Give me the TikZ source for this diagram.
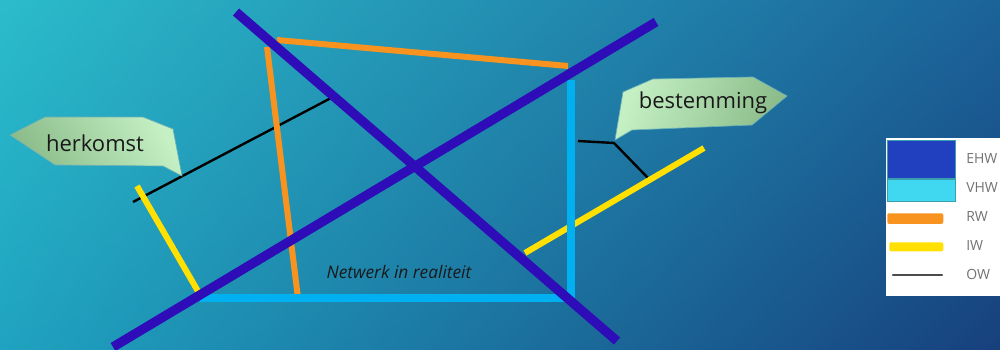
\documentclass[tikz,border=0pt]{standalone}
\usepackage{fontspec}
\setmainfont{Open Sans}
\usetikzlibrary{shadings}
\begin{document}
\begin{tikzpicture}[x=0.75pt,y=-0.75pt,line cap=butt,
  ehw/.style={line width=7pt,draw=ehwc},
  vhw/.style={line width=6pt,draw=vhwc},
  rw/.style={line width=4.5pt,draw=rwc},
  iw/.style={line width=4.5pt,draw=iwc},
  ow/.style={line width=1.8pt,draw=black},
  callout/.style={draw=calloutedge,line width=0.5pt},
  calltext/.style={font=\fontsize{16.5}{18}\selectfont,text=black!90},
  legtext/.style={font=\fontsize{10.5}{12}\selectfont,text=black!55,anchor=west,inner sep=0pt}]
\definecolor{ehwc}{HTML}{2E0CB8}
\definecolor{vhwc}{HTML}{00B0F0}
\definecolor{rwc}{HTML}{F7931E}
\definecolor{iwc}{HTML}{FFE000}
\definecolor{calloutedge}{HTML}{6AB0B8}
\definecolor{bgul}{HTML}{2BBCCB}
\definecolor{bgur}{HTML}{1B6399}
\definecolor{bgll}{HTML}{1FA3C0}
\definecolor{bglr}{HTML}{17407C}
\definecolor{sagedark}{HTML}{8CBC8A}
\definecolor{sagelight}{HTML}{C4F0C4}
\definecolor{legehw}{HTML}{2040C0}
\definecolor{legvhw}{HTML}{40D8F0}
\definecolor{legedge}{HTML}{3AA0B0}
% background
\useasboundingbox (0,0) rectangle (1000,350);
\shade[upper left=bgul,upper right=bgur,lower left=bgll,lower right=bglr] (0,0) rectangle (1000,350);
% coordinates
\coordinate (e1a) at (236,12);
\coordinate (e1b) at (617,341);
\coordinate (e2a) at (656,22);
\coordinate (e2b) at (113,347);
\coordinate (rta) at (277,40);
\coordinate (rtb) at (568,66);
\coordinate (rla) at (267,47);
\coordinate (rlb) at (298,298);
\coordinate (vva) at (571,80);
\coordinate (vvb) at (571,298);
\coordinate (vha) at (200,298);
\coordinate (vhb) at (575,298);
\coordinate (iwla) at (137,186);
\coordinate (iwlb) at (199,293);
\coordinate (iwra) at (525,253);
\coordinate (iwrb) at (704,148);
\coordinate (owla) at (133,202);
\coordinate (owlb) at (331,98);
\coordinate (owra) at (578,141);
\coordinate (owrm) at (614,143);
\coordinate (owrb) at (648,178);
% black lines (under)
\draw[ow] (owla) -- (owlb);
\draw[ow] (owra) -- (owrm) -- (owrb);
% yellow
\draw[iw] (iwla) -- (iwlb);
\draw[iw] (iwra) -- (iwrb);
% orange
\draw[rw] (rta) -- (rtb);
\draw[rw] (rla) -- (rlb);
% light blue
\draw[vhw] (vva) -- (vvb);
\draw[vhw] (vha) -- (vhb);
% dark blue
\draw[ehw] (e1a) -- (e1b);
\draw[ehw] (e2a) -- (e2b);
% callouts
\shade[callout,left color=sagedark,right color=sagelight,shading angle=120]
  (10,135) -- (45,117) -- (143,117) -- (173,129) -- (182,176) -- (163,166) -- (55,165) -- cycle;
\node[calltext] (herkomst) at (95,143) {herkomst};
\shade[callout,left color=sagelight,right color=sagedark,shading angle=70]
  (615,140) -- (623,92) -- (653,79) -- (753,77) -- (787,96) -- (752,125) -- (632,130) -- cycle;
\node[calltext] (bestemming) at (703,103) {bestemming};
% caption
\node[font=\fontsize{13}{14}\selectfont\itshape,text=black!90] (caption) at (399,272) {Netwerk in realiteit};
% legend
\fill[white] (886,138) rectangle (1000,296);
\node[fill=legehw,draw=legedge,line width=0.5pt,minimum width=51pt,minimum height=28.5pt,inner sep=0pt,anchor=north west] (lg1) at (887,140) {};
\node[fill=legvhw,draw=legedge,line width=0.5pt,minimum width=51pt,minimum height=16.5pt,inner sep=0pt,anchor=north west] (lg2) at (887,179) {};
\node[fill=rwc,rounded corners=1.5pt,minimum width=42pt,minimum height=8pt,inner sep=0pt,anchor=north west] (lg3) at (887,213) {};
\node[fill=iwc,rounded corners=1.5pt,minimum width=40.5pt,minimum height=6.8pt,inner sep=0pt,anchor=north west] (lg4) at (889,242) {};
\coordinate (lg5a) at (893,275);
\coordinate (lg5b) at (942,275);
\draw[line width=1.8pt,draw=black!70,line cap=round] (lg5a) -- (lg5b);
\node[legtext] (t1) at (966,158) {EHW};
\node[legtext] (t2) at (966,187) {VHW};
\node[legtext] (t3) at (966,216) {RW};
\node[legtext] (t4) at (966,245) {IW};
\node[legtext] (t5) at (966,274) {OW};
\end{tikzpicture}
\end{document}
